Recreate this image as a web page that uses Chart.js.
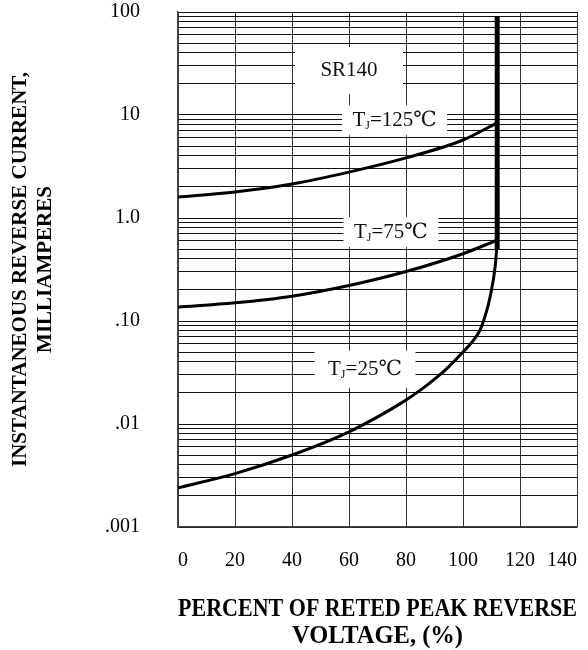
<!DOCTYPE html>
<html>
<head>
<meta charset="utf-8">
<script src="https://cdn.jsdelivr.net/npm/chart.js@4.4.1/dist/chart.umd.min.js"></script>
<style>
  html, body { margin: 0; padding: 0; background: #fff; }
</style>
</head>
<body>
<canvas id="chart" width="588" height="650"></canvas>
<script>
// values
const xTicks = [0, 20, 40, 60, 80, 100, 120, 140];
const yTickValues = [0.001, 0.01, 0.1, 1, 10, 100];
const yTickLabels = ['.001', '.01', '.10', '1.0', '10', '100'];

const pct125 = [0, 20, 40, 60, 80, 100, 112];
const cur125 = [1.6, 1.79, 2.14, 2.79, 3.83, 5.72, 8.4];

const pct75 = [0, 20, 40, 60, 80, 100, 112];
const cur75 = [0.136, 0.15, 0.174, 0.221, 0.302, 0.45, 0.61];

const pct25 = [0, 20, 40, 60, 79, 86, 94.4, 100, 103.5, 106, 108.1, 109.5, 111.4, 112];
const cur25 = [0.0024, 0.0033, 0.005, 0.0084, 0.0164, 0.0223, 0.0347, 0.05, 0.064, 0.082, 0.12, 0.171, 0.36, 0.6];

// breakdown wall
const pctWall = [112, 112];
const curWall = [0.5, 91];

// text notes placed in data coordinates (box size in px)
const notes = [
  { text: 'SR140', sub: '', rest: '', x: 60, y: 27, w: 108, h: 47 },
  { text: 'T', sub: 'J', rest: '=125\u2103', x: 76, y: 8.9, w: 105, h: 30 },
  { text: 'T', sub: 'J', rest: '=75\u2103', x: 74.7, y: 0.73, w: 95, h: 30 },
  { text: 'T', sub: 'J', rest: '=25\u2103', x: 65.6, y: 0.034, w: 101, h: 37 }
];

const serif = '"Liberation Serif", "Times New Roman", "DejaVu Serif", serif';

// minor log grid lines 1..9 per decade
const gridValues = [];
for (let e = -3; e < 2; e++) {
  for (let s = 1; s < 10; s++) gridValues.push(s * Math.pow(10, e));
}
gridValues.push(100);

function pts(xs, ys) {
  return xs.map((x, i) => ({ x: x, y: ys[i] }));
}

function curve(xs, ys) {
  return {
    data: pts(xs, ys),
    borderColor: '#000',
    borderWidth: 3,
    pointRadius: 0,
    fill: false,
    cubicInterpolationMode: 'monotone'
  };
}

const notesPlugin = {
  id: 'notes',
  beforeDatasetsDraw(chart) {
    const ctx = chart.ctx;
    const xs = chart.scales.x, ys = chart.scales.y;
    ctx.save();
    notes.forEach(n => {
      const cx = xs.getPixelForValue(n.x);
      const cy = ys.getPixelForValue(n.y);
      ctx.fillStyle = '#fff';
      ctx.fillRect(cx - n.w / 2, cy - n.h / 2, n.w, n.h);
      const big = '21px ' + serif, small = '12px ' + serif;
      ctx.font = big;
      const w1 = ctx.measureText(n.text).width;
      const w3 = ctx.measureText(n.rest).width;
      ctx.font = small;
      const w2 = ctx.measureText(n.sub).width;
      let x = cx - (w1 + w2 + w3) / 2;
      ctx.fillStyle = '#111';
      ctx.textBaseline = 'middle';
      ctx.textAlign = 'left';
      ctx.font = big;
      ctx.fillText(n.text, x, cy);
      x += w1;
      ctx.font = small;
      ctx.fillText(n.sub, x, cy + 6);
      x += w2;
      ctx.font = big;
      ctx.fillText(n.rest, x, cy);
    });
    ctx.restore();
  }
};

const ctx = document.getElementById('chart').getContext('2d');
new Chart(ctx, {
  type: 'line',
  data: {
    datasets: [
      curve(pct125, cur125),
      curve(pct75, cur75),
      curve(pct25, cur25),
      {
        data: pts(pctWall, curWall),
        borderColor: '#000',
        borderWidth: 5,
        pointRadius: 0,
        tension: 0,
        fill: false
      }
    ]
  },
  options: {
    responsive: false,
    animation: false,
    devicePixelRatio: 1,
    layout: { padding: { top: 12, right: 11, left: 0, bottom: 0 } },
    plugins: {
      legend: { display: false },
      tooltip: { enabled: false }
    },
    scales: {
      x: {
        type: 'linear',
        min: 0,
        max: 140,
        afterBuildTicks: scale => { scale.ticks = xTicks.map(v => ({ value: v })); },
        afterFit: scale => {
          scale.height = 123;
          scale.paddingLeft = 0;
          scale.paddingRight = 0;
        },
        grid: { color: '#333', lineWidth: 1, drawTicks: false },
        border: { color: '#444', width: 1.5 },
        ticks: {
          color: '#000',
          padding: 22,
          maxRotation: 0,
          align: 'inner',
          font: { family: serif, size: 20 }
        },
        title: {
          display: true,
          text: ['PERCENT OF RETED PEAK REVERSE', 'VOLTAGE, (%)'],
          color: '#000',
          font: { family: serif, size: 24.5, weight: 'bold', lineHeight: 1.1 },
          padding: { top: 0, bottom: 0 }
        }
      },
      y: {
        type: 'logarithmic',
        min: 0.001,
        max: 100,
        afterBuildTicks: scale => { scale.ticks = gridValues.map(v => ({ value: v })); },
        afterFit: scale => {
          scale.width = 178;
          scale.paddingTop = 0;
          scale.paddingBottom = 0;
        },
        grid: { color: '#111', lineWidth: 1, drawTicks: false },
        border: { color: '#444', width: 1.5 },
        ticks: {
          autoSkip: false,
          color: '#000',
          padding: 38,
          font: { family: serif, size: 20 },
          callback: v => {
            const i = yTickValues.findIndex(t => Math.abs(Math.log10(t) - Math.log10(v)) < 1e-6);
            return i >= 0 ? yTickLabels[i] : '';
          }
        },
        title: {
          display: true,
          text: ['INSTANTANEOUS REVERSE CURRENT,', 'MILLIAMPERES'],
          color: '#000',
          font: { family: serif, size: 21, weight: 'bold', lineHeight: 1.2 },
          padding: { top: 8, bottom: 0 }
        }
      }
    }
  },
  plugins: [notesPlugin]
});
</script>
</body>
</html>
